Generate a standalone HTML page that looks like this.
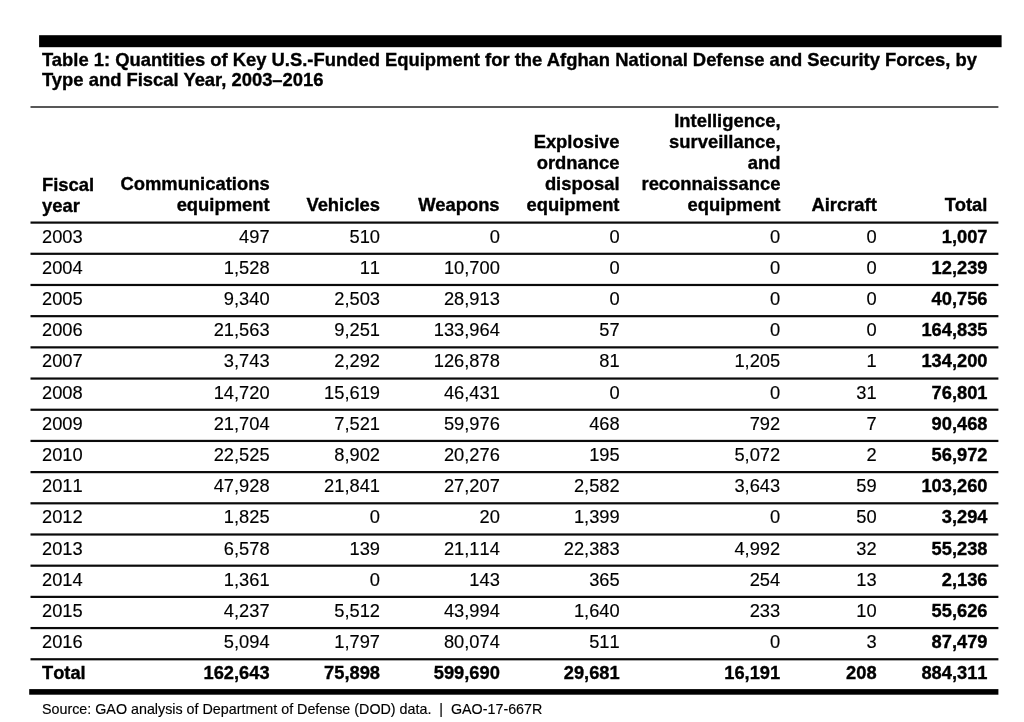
<!DOCTYPE html>
<html lang="en"><head><meta charset="utf-8"><title>Table 1</title>
<style>
html,body{margin:0;padding:0;background:#fff;}
body{width:1024px;height:722px;position:relative;overflow:hidden;font-family:"Liberation Sans",Arial,Helvetica,sans-serif;color:#000;-webkit-text-stroke:0.15px #000;}
.a{position:absolute;white-space:nowrap;}
.t{-webkit-text-stroke:0.35px #000;font-weight:bold;font-size:18.4px;line-height:20.7px;}
.h{-webkit-text-stroke:0.35px #000;font-weight:bold;font-size:18.4px;line-height:21px;text-align:right;}
.hl{text-align:left;}
.d{font-kerning:none;font-size:18.3px;line-height:31.19px;text-align:right;}
.dl{text-align:left;}
.b{font-weight:bold;-webkit-text-stroke:0.35px #000;}
.s{font-size:14.3px;line-height:16px;}
</style></head><body>

<div class="a t" style="left:42px;top:49.6px">Table 1: Quantities of Key U.S.-Funded Equipment for the Afghan National Defense and Security Forces, by<br>Type and Fiscal Year, 2003–2016</div>
<div class="a h hl" style="left:42px;bottom:505.8px">Fiscal<br>year</div>
<div class="a h" style="right:754.4px;bottom:506.8px">Communications<br>equipment</div>
<div class="a h" style="right:644px;bottom:506.8px">Vehicles</div>
<div class="a h" style="right:524.4px;bottom:506.8px">Weapons</div>
<div class="a h" style="right:404.5px;bottom:506.8px">Explosive<br>ordnance<br>disposal<br>equipment</div>
<div class="a h" style="right:243.5px;bottom:506.8px">Intelligence,<br>surveillance,<br>and<br>reconnaissance<br>equipment</div>
<div class="a h" style="right:147.2px;bottom:506.8px">Aircraft</div>
<div class="a h" style="right:36.6px;bottom:506.8px">Total</div>
<svg class="a" style="left:0;top:0" width="1024" height="722" viewBox="0 0 1024 722">
<rect x="39.1" y="35.2" width="962.5" height="12" fill="#000"/>
<rect x="30.5" y="106.25" width="967.90" height="1.5" fill="#222"/>
<rect x="30.5" y="221.50" width="967.90" height="2.2" fill="#0a0a0a"/>
<rect x="30.5" y="252.69" width="967.90" height="2.2" fill="#0a0a0a"/>
<rect x="30.5" y="283.88" width="967.90" height="2.2" fill="#0a0a0a"/>
<rect x="30.5" y="315.07" width="967.90" height="2.2" fill="#0a0a0a"/>
<rect x="30.5" y="346.26" width="967.90" height="2.2" fill="#0a0a0a"/>
<rect x="30.5" y="377.45" width="967.90" height="2.2" fill="#0a0a0a"/>
<rect x="30.5" y="408.64" width="967.90" height="2.2" fill="#0a0a0a"/>
<rect x="30.5" y="439.83" width="967.90" height="2.2" fill="#0a0a0a"/>
<rect x="30.5" y="471.02" width="967.90" height="2.2" fill="#0a0a0a"/>
<rect x="30.5" y="502.21" width="967.90" height="2.2" fill="#0a0a0a"/>
<rect x="30.5" y="533.40" width="967.90" height="2.2" fill="#0a0a0a"/>
<rect x="30.5" y="564.59" width="967.90" height="2.2" fill="#0a0a0a"/>
<rect x="30.5" y="595.78" width="967.90" height="2.2" fill="#0a0a0a"/>
<rect x="30.5" y="626.97" width="967.90" height="2.2" fill="#0a0a0a"/>
<rect x="30.5" y="658.16" width="967.90" height="2.2" fill="#0a0a0a"/>
<rect x="29.20" y="689.1" width="969.20" height="5.6" fill="#000"/>
</svg>
<div class="a d dl" style="left:42px;top:220.70px">2003</div>
<div class="a d" style="right:754.4px;top:220.70px">497</div>
<div class="a d" style="right:644px;top:220.70px">510</div>
<div class="a d" style="right:524.2px;top:220.70px">0</div>
<div class="a d" style="right:404.3px;top:220.70px">0</div>
<div class="a d" style="right:243.8px;top:220.70px">0</div>
<div class="a d" style="right:147.4px;top:220.70px">0</div>
<div class="a d b" style="right:36.5px;top:220.70px">1,007</div>
<div class="a d dl" style="left:42px;top:251.89px">2004</div>
<div class="a d" style="right:754.4px;top:251.89px">1,528</div>
<div class="a d" style="right:644px;top:251.89px">11</div>
<div class="a d" style="right:524.2px;top:251.89px">10,700</div>
<div class="a d" style="right:404.3px;top:251.89px">0</div>
<div class="a d" style="right:243.8px;top:251.89px">0</div>
<div class="a d" style="right:147.4px;top:251.89px">0</div>
<div class="a d b" style="right:36.5px;top:251.89px">12,239</div>
<div class="a d dl" style="left:42px;top:283.08px">2005</div>
<div class="a d" style="right:754.4px;top:283.08px">9,340</div>
<div class="a d" style="right:644px;top:283.08px">2,503</div>
<div class="a d" style="right:524.2px;top:283.08px">28,913</div>
<div class="a d" style="right:404.3px;top:283.08px">0</div>
<div class="a d" style="right:243.8px;top:283.08px">0</div>
<div class="a d" style="right:147.4px;top:283.08px">0</div>
<div class="a d b" style="right:36.5px;top:283.08px">40,756</div>
<div class="a d dl" style="left:42px;top:314.27px">2006</div>
<div class="a d" style="right:754.4px;top:314.27px">21,563</div>
<div class="a d" style="right:644px;top:314.27px">9,251</div>
<div class="a d" style="right:524.2px;top:314.27px">133,964</div>
<div class="a d" style="right:404.3px;top:314.27px">57</div>
<div class="a d" style="right:243.8px;top:314.27px">0</div>
<div class="a d" style="right:147.4px;top:314.27px">0</div>
<div class="a d b" style="right:36.5px;top:314.27px">164,835</div>
<div class="a d dl" style="left:42px;top:345.46px">2007</div>
<div class="a d" style="right:754.4px;top:345.46px">3,743</div>
<div class="a d" style="right:644px;top:345.46px">2,292</div>
<div class="a d" style="right:524.2px;top:345.46px">126,878</div>
<div class="a d" style="right:404.3px;top:345.46px">81</div>
<div class="a d" style="right:243.8px;top:345.46px">1,205</div>
<div class="a d" style="right:147.4px;top:345.46px">1</div>
<div class="a d b" style="right:36.5px;top:345.46px">134,200</div>
<div class="a d dl" style="left:42px;top:376.65px">2008</div>
<div class="a d" style="right:754.4px;top:376.65px">14,720</div>
<div class="a d" style="right:644px;top:376.65px">15,619</div>
<div class="a d" style="right:524.2px;top:376.65px">46,431</div>
<div class="a d" style="right:404.3px;top:376.65px">0</div>
<div class="a d" style="right:243.8px;top:376.65px">0</div>
<div class="a d" style="right:147.4px;top:376.65px">31</div>
<div class="a d b" style="right:36.5px;top:376.65px">76,801</div>
<div class="a d dl" style="left:42px;top:407.84px">2009</div>
<div class="a d" style="right:754.4px;top:407.84px">21,704</div>
<div class="a d" style="right:644px;top:407.84px">7,521</div>
<div class="a d" style="right:524.2px;top:407.84px">59,976</div>
<div class="a d" style="right:404.3px;top:407.84px">468</div>
<div class="a d" style="right:243.8px;top:407.84px">792</div>
<div class="a d" style="right:147.4px;top:407.84px">7</div>
<div class="a d b" style="right:36.5px;top:407.84px">90,468</div>
<div class="a d dl" style="left:42px;top:439.03px">2010</div>
<div class="a d" style="right:754.4px;top:439.03px">22,525</div>
<div class="a d" style="right:644px;top:439.03px">8,902</div>
<div class="a d" style="right:524.2px;top:439.03px">20,276</div>
<div class="a d" style="right:404.3px;top:439.03px">195</div>
<div class="a d" style="right:243.8px;top:439.03px">5,072</div>
<div class="a d" style="right:147.4px;top:439.03px">2</div>
<div class="a d b" style="right:36.5px;top:439.03px">56,972</div>
<div class="a d dl" style="left:42px;top:470.22px">2011</div>
<div class="a d" style="right:754.4px;top:470.22px">47,928</div>
<div class="a d" style="right:644px;top:470.22px">21,841</div>
<div class="a d" style="right:524.2px;top:470.22px">27,207</div>
<div class="a d" style="right:404.3px;top:470.22px">2,582</div>
<div class="a d" style="right:243.8px;top:470.22px">3,643</div>
<div class="a d" style="right:147.4px;top:470.22px">59</div>
<div class="a d b" style="right:36.5px;top:470.22px">103,260</div>
<div class="a d dl" style="left:42px;top:501.41px">2012</div>
<div class="a d" style="right:754.4px;top:501.41px">1,825</div>
<div class="a d" style="right:644px;top:501.41px">0</div>
<div class="a d" style="right:524.2px;top:501.41px">20</div>
<div class="a d" style="right:404.3px;top:501.41px">1,399</div>
<div class="a d" style="right:243.8px;top:501.41px">0</div>
<div class="a d" style="right:147.4px;top:501.41px">50</div>
<div class="a d b" style="right:36.5px;top:501.41px">3,294</div>
<div class="a d dl" style="left:42px;top:532.60px">2013</div>
<div class="a d" style="right:754.4px;top:532.60px">6,578</div>
<div class="a d" style="right:644px;top:532.60px">139</div>
<div class="a d" style="right:524.2px;top:532.60px">21,114</div>
<div class="a d" style="right:404.3px;top:532.60px">22,383</div>
<div class="a d" style="right:243.8px;top:532.60px">4,992</div>
<div class="a d" style="right:147.4px;top:532.60px">32</div>
<div class="a d b" style="right:36.5px;top:532.60px">55,238</div>
<div class="a d dl" style="left:42px;top:563.79px">2014</div>
<div class="a d" style="right:754.4px;top:563.79px">1,361</div>
<div class="a d" style="right:644px;top:563.79px">0</div>
<div class="a d" style="right:524.2px;top:563.79px">143</div>
<div class="a d" style="right:404.3px;top:563.79px">365</div>
<div class="a d" style="right:243.8px;top:563.79px">254</div>
<div class="a d" style="right:147.4px;top:563.79px">13</div>
<div class="a d b" style="right:36.5px;top:563.79px">2,136</div>
<div class="a d dl" style="left:42px;top:594.98px">2015</div>
<div class="a d" style="right:754.4px;top:594.98px">4,237</div>
<div class="a d" style="right:644px;top:594.98px">5,512</div>
<div class="a d" style="right:524.2px;top:594.98px">43,994</div>
<div class="a d" style="right:404.3px;top:594.98px">1,640</div>
<div class="a d" style="right:243.8px;top:594.98px">233</div>
<div class="a d" style="right:147.4px;top:594.98px">10</div>
<div class="a d b" style="right:36.5px;top:594.98px">55,626</div>
<div class="a d dl" style="left:42px;top:626.17px">2016</div>
<div class="a d" style="right:754.4px;top:626.17px">5,094</div>
<div class="a d" style="right:644px;top:626.17px">1,797</div>
<div class="a d" style="right:524.2px;top:626.17px">80,074</div>
<div class="a d" style="right:404.3px;top:626.17px">511</div>
<div class="a d" style="right:243.8px;top:626.17px">0</div>
<div class="a d" style="right:147.4px;top:626.17px">3</div>
<div class="a d b" style="right:36.5px;top:626.17px">87,479</div>
<div class="a d dl b" style="left:42px;top:657.36px">Total</div>
<div class="a d b" style="right:754.4px;top:657.36px">162,643</div>
<div class="a d b" style="right:644px;top:657.36px">75,898</div>
<div class="a d b" style="right:524.2px;top:657.36px">599,690</div>
<div class="a d b" style="right:404.3px;top:657.36px">29,681</div>
<div class="a d b" style="right:243.8px;top:657.36px">16,191</div>
<div class="a d b" style="right:147.4px;top:657.36px">208</div>
<div class="a d b" style="right:36.5px;top:657.36px">884,311</div>
<div class="a s" style="left:42px;top:700.5px">Source: GAO analysis of Department of Defense (DOD) data. &nbsp;|&nbsp; GAO-17-667R</div>
</body></html>
